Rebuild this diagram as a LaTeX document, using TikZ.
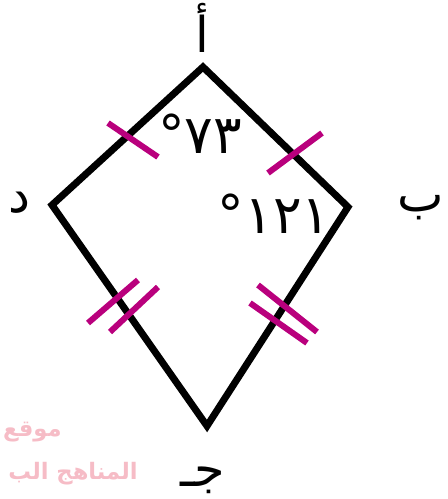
\documentclass[tikz,border=0pt]{standalone}
\usepackage{fontspec}
\TeXXeTstate=1
\newfontfamily\arabicfont[Script=Arabic]{DejaVu Sans}
\definecolor{tickc}{RGB}{185,0,125}
\definecolor{wmark}{RGB}{246,188,198}
\tikzset{
  side/.style={line width=5.25pt, line join=miter, black},
  tickmark/.style={line width=4.5pt, tickc},
  vlabel/.style={inner sep=0pt, font=\arabicfont\fontsize{37}{40}\selectfont},
  anglabel/.style={inner sep=0pt, font=\arabicfont\fontsize{40}{44}\selectfont},
  wm/.style={inner sep=0pt, anchor=east, text=wmark, font=\arabicfont\bfseries\fontsize{17}{20}\selectfont}
}
\begin{document}
\begin{tikzpicture}[x=0.75pt,y=-0.75pt]
\useasboundingbox (0,0) rectangle (447,499);
% watermark
\node[wm] (wm1) at (62,432) {\beginR موقع\endR};
\node[wm] (wm2) at (138,474) {\beginR المناهج الب\endR};
% vertices
\coordinate (A) at (203,67);
\coordinate (B) at (348,207);
\coordinate (C) at (207,426);
\coordinate (D) at (52,205);
\draw[side] (A) -- (B) -- (C) -- (D) -- cycle;
% tick marks
\draw[tickmark] (108,123) -- (158,157);
\draw[tickmark] (268,173) -- (322,133);
\draw[tickmark] (88,323) -- (138,280);
\draw[tickmark] (110,332) -- (158,287);
\draw[tickmark] (258,285) -- (317,332);
\draw[tickmark] (250,303) -- (307,343);
% vertex labels
\node[vlabel] (lA) at (202,28) {\beginR أ\endR};
\node[vlabel] (lB) at (421,208) {\beginR ب\endR};
\node[vlabel] (lC) at (203,480) {\beginR جـ\endR};
\node[vlabel] (lD) at (19,203) {\beginR د\endR};
% angle labels
\node[anglabel] (a1) at (200,134) {٧٣°};
\node[anglabel] (a2) at (274,214) {١٢١°};
\end{tikzpicture}
\end{document}
